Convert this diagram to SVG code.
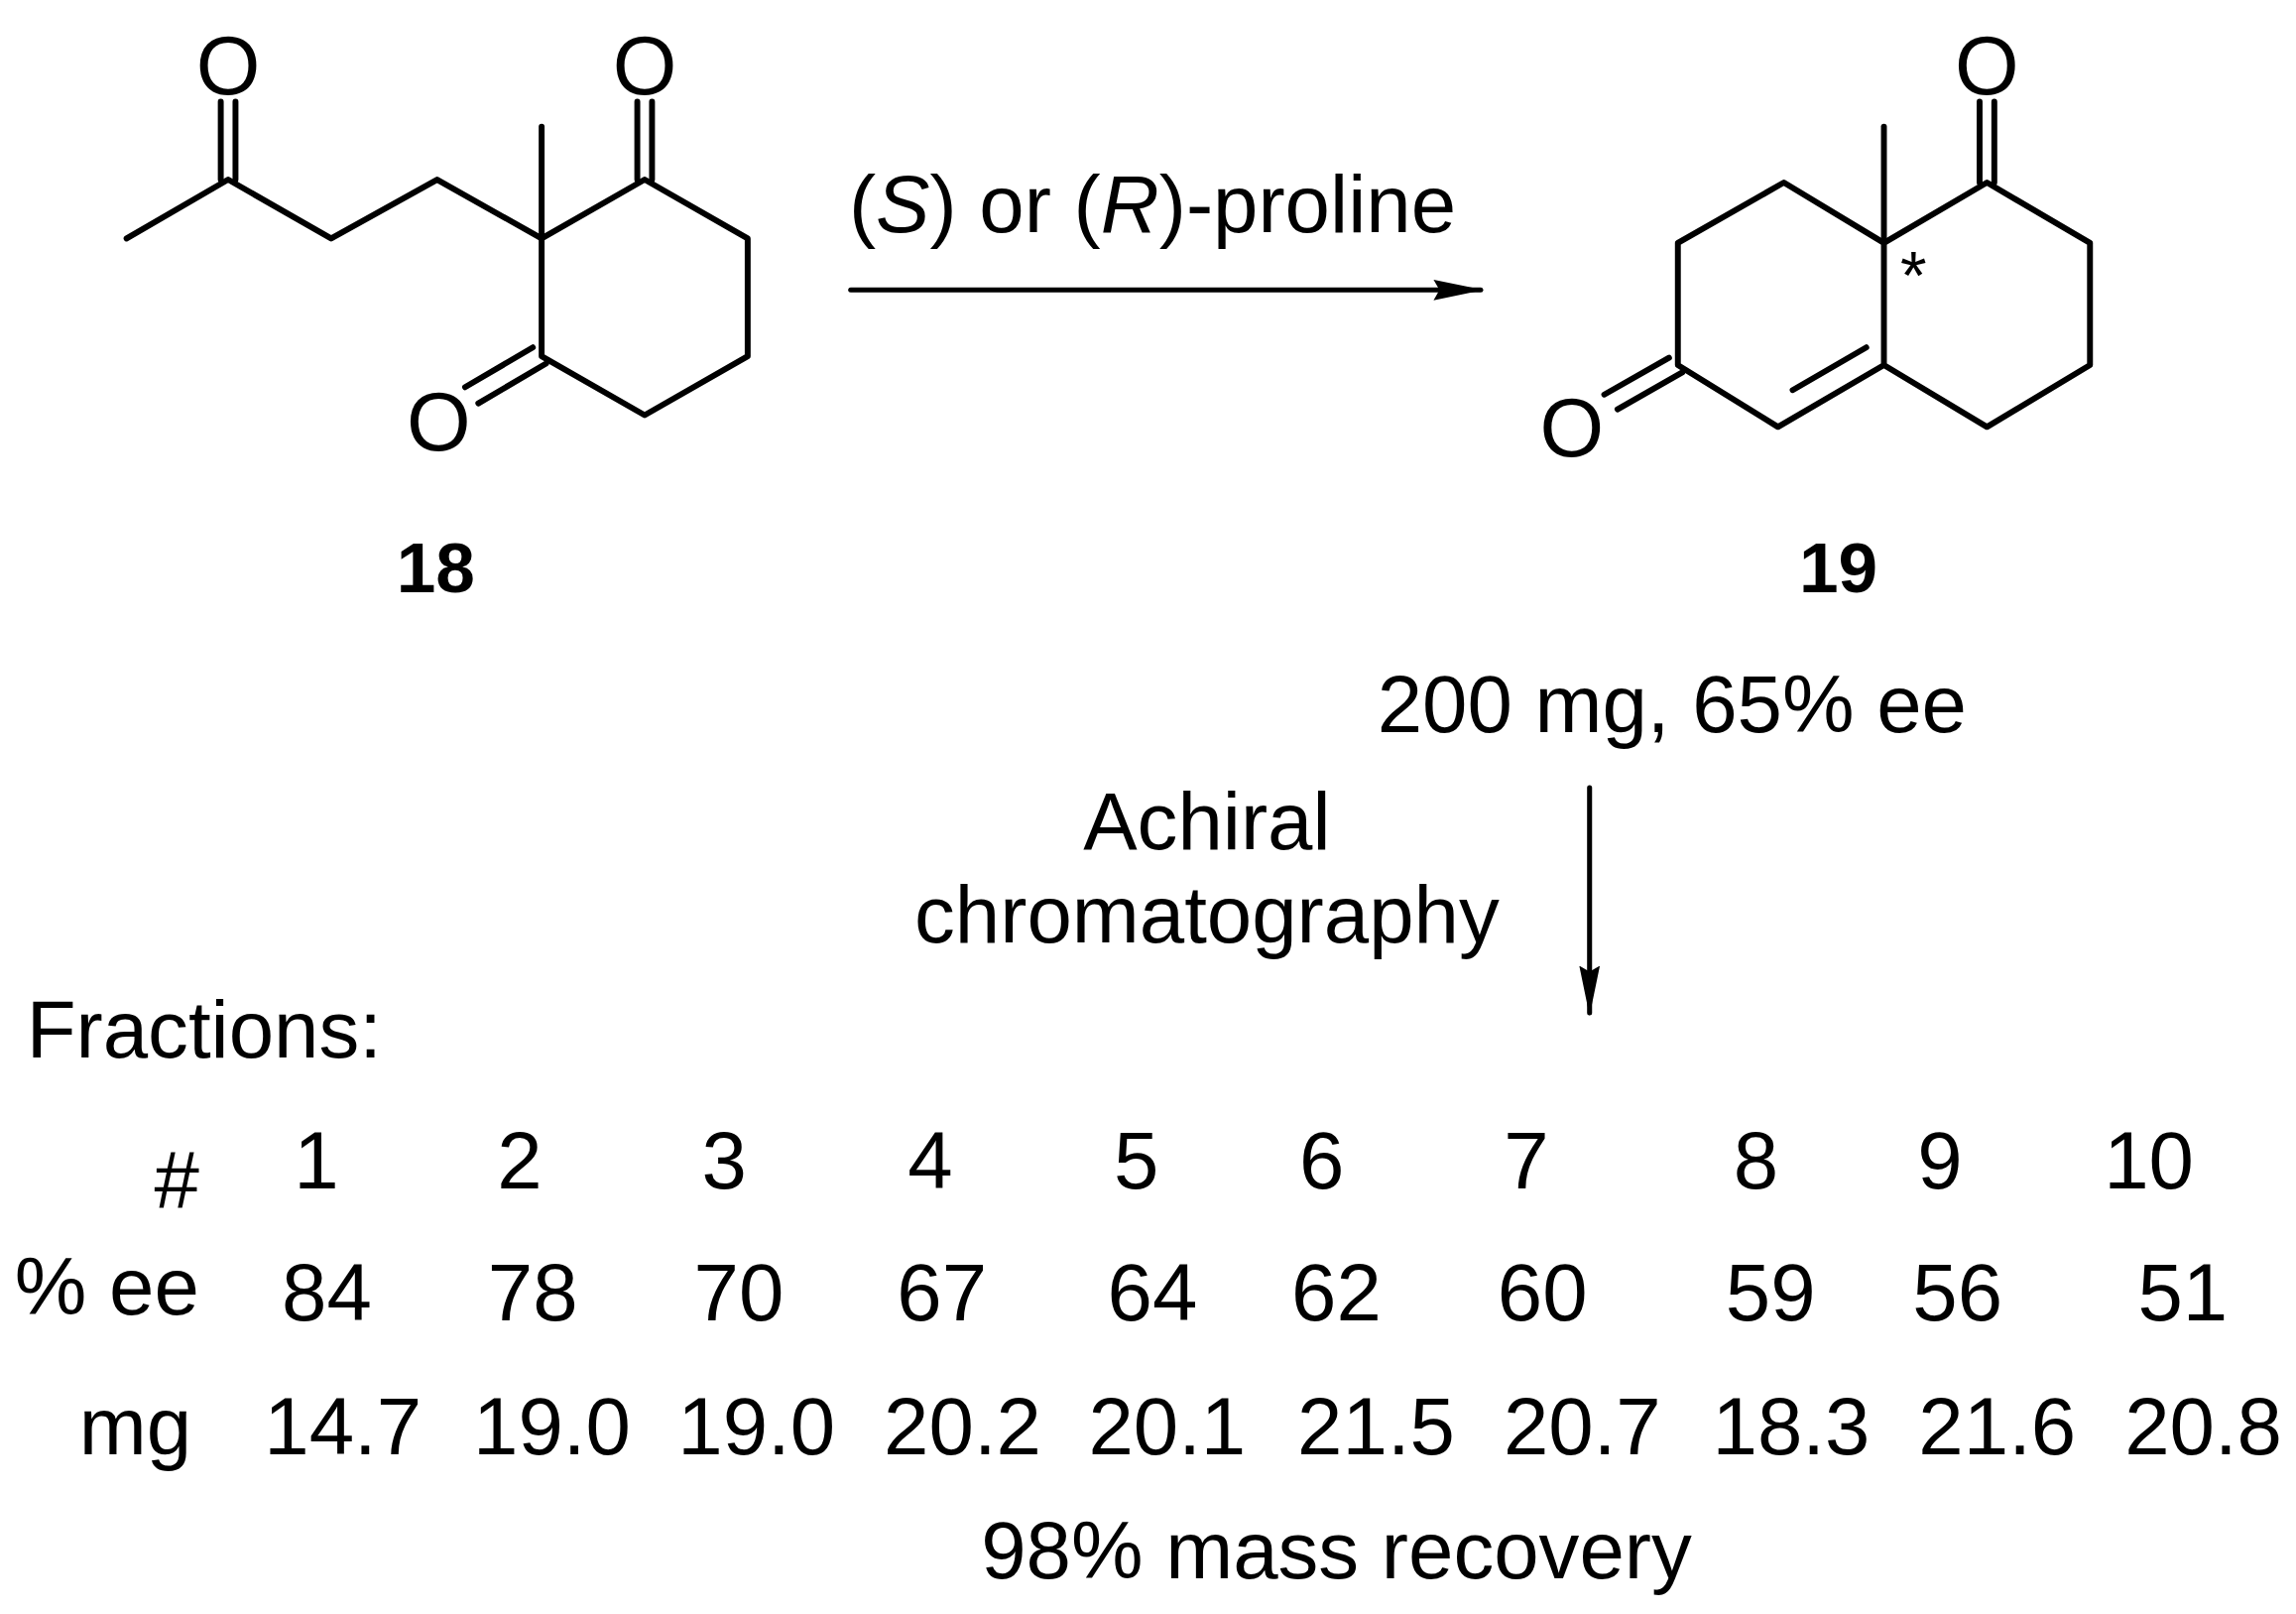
<svg xmlns="http://www.w3.org/2000/svg" width="2315" height="1627" viewBox="0 0 2315 1627">
<style>
.b{fill:none;stroke:#000;stroke-width:4;stroke-linecap:round;stroke-linejoin:round}
text{font-family:"Liberation Sans",Arial,sans-serif;font-size:55px;fill:#000}
.o{font-size:56px;text-anchor:middle}
.m{text-anchor:middle}
.lbl{font-weight:bold;font-size:48px;text-anchor:middle}
</style>
<defs><marker id="ah" markerWidth="34" markerHeight="14" refX="32" refY="7" orient="auto" markerUnits="userSpaceOnUse" viewBox="0 0 34 14"><path d="M0,0L34,7L0,14L4,7z" fill="#000"/></marker></defs>
<rect width="2315" height="1627" fill="#fff"/>
<g transform="scale(1.484)">
<g id="cmpd18">
<path class="b" d="M86,162L155,122L225,162L297,122L368,162L438,122L508,162L508,242L438,282L368,242L368,162"/>
<path class="b" d="M368,162L368,86"/>
<path class="b" d="M150,122V69M160,122V69"/>
<path class="b" d="M433,122V69M443,122V69"/>
<path class="b" d="M362,236L316,263M371,247L325,274"/>
<text class="o" x="155" y="64">O</text>
<text class="o" x="438" y="64">O</text>
<text class="o" x="298" y="306">O</text>
<text class="lbl" x="296" y="402">18</text>
</g>
<g id="cmpd19">
<path class="b" d="M1280,165L1212,124L1140,165L1140,248L1208,290L1280,248L1280,165L1350,124L1420,165L1420,248L1350,290L1280,248"/>
<path class="b" d="M1280,165L1280,86"/>
<path class="b" d="M1345,124V69M1355,124V69"/>
<path class="b" d="M1268,236L1218,265"/>
<path class="b" d="M1134,243L1090,268M1143,253L1099,278"/>
<text class="o" x="1068" y="310">O</text>
<text class="o" x="1350" y="64">O</text>
<text x="1300" y="203" style="font-size:46px" class="m">*</text>
<text class="lbl" x="1249" y="402">19</text>
<text class="m" x="1136" y="497">200 mg, 65% ee</text>
</g>
<g id="connectors">
<path class="b" d="M578,197H1006" marker-end="url(#ah)" style="stroke-width:3.4"/>
<path class="b" d="M1080,535V688" marker-end="url(#ah)" style="stroke-width:3.4"/>
</g>
<text class="m" x="783" y="158">(<tspan font-style="italic">S</tspan>) or (<tspan font-style="italic">R</tspan>)-proline</text>
<text class="m" x="820" y="577">Achiral</text>
<text class="m" x="820" y="640">chromatography</text>
<text x="18" y="718">Fractions:</text>
<g>
<text class="m" x="120" y="820">#</text>
<text class="m" x="215" y="807">1</text><text class="m" x="353" y="807">2</text><text class="m" x="492" y="807">3</text><text class="m" x="632" y="807">4</text><text class="m" x="772" y="807">5</text><text class="m" x="898" y="807">6</text><text class="m" x="1037" y="807">7</text><text class="m" x="1193" y="807">8</text><text class="m" x="1318" y="807">9</text><text class="m" x="1460" y="807">10</text>
<text x="10" y="893">% ee</text>
<text class="m" x="222" y="897">84</text><text class="m" x="362" y="897">78</text><text class="m" x="502" y="897">70</text><text class="m" x="640" y="897">67</text><text class="m" x="783" y="897">64</text><text class="m" x="908" y="897">62</text><text class="m" x="1048" y="897">60</text><text class="m" x="1203" y="897">59</text><text class="m" x="1330" y="897">56</text><text class="m" x="1483" y="897">51</text>
<text class="m" x="92" y="988">mg</text>
<text class="m" x="233" y="988">14.7</text><text class="m" x="375" y="988">19.0</text><text class="m" x="514" y="988">19.0</text><text class="m" x="654" y="988">20.2</text><text class="m" x="793" y="988">20.1</text><text class="m" x="935" y="988">21.5</text><text class="m" x="1075" y="988">20.7</text><text class="m" x="1217" y="988">18.3</text><text class="m" x="1357" y="988">21.6</text><text class="m" x="1497" y="988">20.8</text>
<text class="m" x="908" y="1072">98% mass recovery</text>
</g>
</g>
</svg>
